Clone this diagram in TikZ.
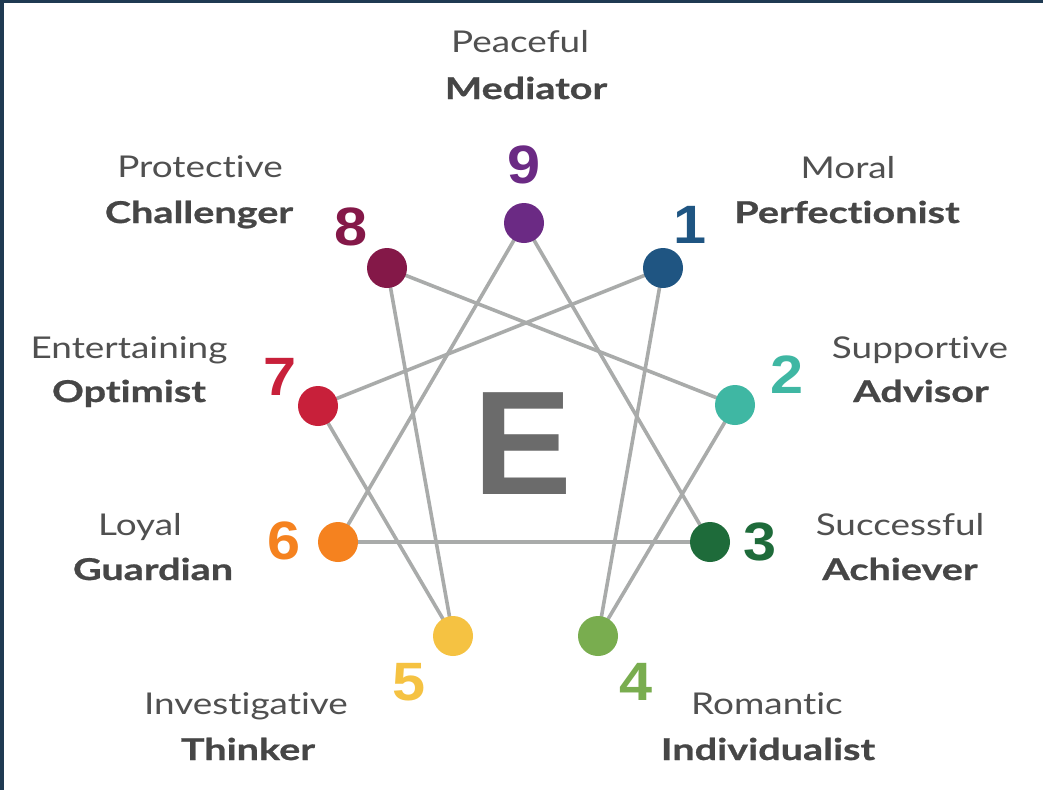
\documentclass[tikz,border=0pt]{standalone}
\usepackage{fontspec}
\setmainfont{Lato}[Ligatures=NoCommon, FakeStretch=1.23, BoldFeatures={FakeStretch=1.32, FakeBold=0.8}]
\newfontfamily\numfont{Liberation Sans}[FakeStretch=1.1]
\newfontfamily\efont{Liberation Sans}
\definecolor{frame}{HTML}{1F3A52}
\definecolor{edge}{HTML}{A9ABAA}
\definecolor{lighttext}{HTML}{505050}
\definecolor{boldtext}{HTML}{464646}
\definecolor{egray}{HTML}{6B6B6B}
\definecolor{c9}{HTML}{6B2A84}
\definecolor{c8}{HTML}{841848}
\definecolor{c1}{HTML}{1F5582}
\definecolor{c7}{HTML}{C8203A}
\definecolor{c2}{HTML}{3FB7A3}
\definecolor{c6}{HTML}{F5821F}
\definecolor{c3}{HTML}{1E6B3A}
\definecolor{c5}{HTML}{F5C242}
\definecolor{c4}{HTML}{79AD4F}
\tikzset{
  dot/.style={circle, minimum size=40pt, inner sep=0pt, draw=none},
  link/.style={draw=edge, line width=3.6pt},
  lt/.style={anchor=base, inner sep=0pt, text=lighttext, font=\fontsize{30}{32}\selectfont},
  bd/.style={anchor=base, inner sep=0pt, text=boldtext, font=\fontsize{30}{32}\selectfont\bfseries},
  num/.style={anchor=base, inner sep=0pt, font=\fontsize{54}{56}\selectfont\numfont\bfseries},
}
\begin{document}
\begin{tikzpicture}[x=1pt, y=-1pt]
\useasboundingbox (0,0) rectangle (1043,790);
\fill[white] (0,0) rectangle (1043,790);
\fill[frame] (0,0) rectangle (1043,2.5);
\fill[frame] (0,0) rectangle (3.5,790);

% circle positions
\coordinate (p9) at (524,223);
\coordinate (p8) at (387,268);
\coordinate (p1) at (663,268);
\coordinate (p7) at (318,406);
\coordinate (p2) at (735,405);
\coordinate (p6) at (338,542);
\coordinate (p3) at (710,542);
\coordinate (p5) at (453,636);
\coordinate (p4) at (598,636);

% big E
\node[inner sep=0pt, text=egray, font=\fontsize{148}{150}\selectfont\efont\bfseries] (E) at (523,444) {E};

% connectors
\draw[link] (p9) -- (p3) -- (p6) -- cycle;
\draw[link] (p1) -- (p4) -- (p2) -- (p8) -- (p5) -- (p7) -- cycle;

% dots
\node[dot, fill=c9] (n9) at (p9) {};
\node[dot, fill=c8] (n8) at (p8) {};
\node[dot, fill=c1] (n1) at (p1) {};
\node[dot, fill=c7] (n7) at (p7) {};
\node[dot, fill=c2] (n2) at (p2) {};
\node[dot, fill=c6] (n6) at (p6) {};
\node[dot, fill=c3] (n3) at (p3) {};
\node[dot, fill=c5] (n5) at (p5) {};
\node[dot, fill=c4] (n4) at (p4) {};

% numbers
\node[num, text=c9] (d9) at (524,183) {9};
\node[num, text=c8] (d8) at (351,245) {8};
\node[num, text=c1] (d1) at (690,243) {1};
\node[num, text=c7] (d7) at (280,395) {7};
\node[num, text=c2] (d2) at (787,393) {2};
\node[num, text=c6] (d6) at (284,559) {6};
\node[num, text=c3] (d3) at (760,560) {3};
\node[num, text=c5] (d5) at (409,700) {5};
\node[num, text=c4] (d4) at (636,700) {4};

% labels
\node[lt] (l9a) at (520,52) {Peaceful};
\node[bd] (l9b) at (526,99) {Mediator};
\node[lt] (l8a) at (200,177) {Protective};
\node[bd] (l8b) at (199,223) {Challenger};
\node[lt] (l1a) at (848,178) {Moral};
\node[bd] (l1b) at (847,223) {Perfectionist};
\node[lt] (l7a) at (129,358) {Entertaining};
\node[bd] (l7b) at (129,402) {Optimist};
\node[lt] (l2a) at (920,358) {Supportive};
\node[bd] (l2b) at (921,402) {Advisor};
\node[lt] (l6a) at (140,535) {Loyal};
\node[bd] (l6b) at (153,580) {Guardian};
\node[lt] (l3a) at (900,535) {Successful};
\node[bd] (l3b) at (900,580) {Achiever};
\node[lt] (l5a) at (246,714) {Investigative};
\node[bd] (l5b) at (248,760) {Thinker};
\node[lt] (l4a) at (767,714) {Romantic};
\node[bd] (l4b) at (768,760) {Individualist};
\end{tikzpicture}
\end{document}
